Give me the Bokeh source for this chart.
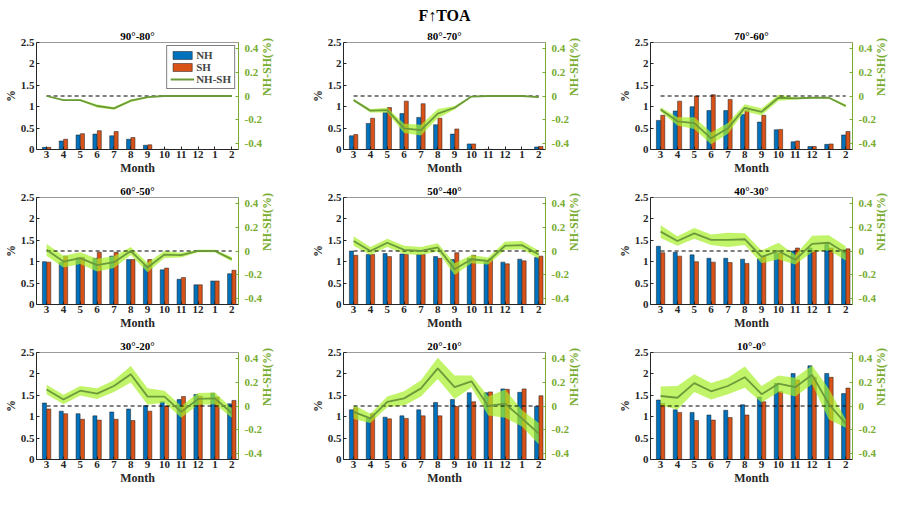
import numpy as np
from bokeh.plotting import figure
from bokeh.models import Range1d, LinearAxis, FixedTicker, Title, Legend, LegendItem
from bokeh.layouts import row, column
from bokeh.embed import file_html
from bokeh.resources import INLINE

months = ["3", "4", "5", "6", "7", "8", "9", "10", "11", "12", "1", "2"]
main_title = "F\u2191TOA"
band_titles = ["90°-80°", "80°-70°", "70°-60°", "60°-50°", "50°-40°",
               "40°-30°", "30°-20°", "20°-10°", "10°-0°"]

nh_90_80 = [0.05, 0.20, 0.34, 0.36, 0.32, 0.24, 0.10, 0.005, 0, 0, 0, 0]
sh_90_80 = [0.05, 0.24, 0.37, 0.44, 0.42, 0.28, 0.11, 0.005, 0, 0, 0, 0]
df_90_80 = [0.0, -0.035, -0.035, -0.085, -0.105, -0.04, -0.01, 0, 0, 0, 0, 0]
er_90_80 = [0.004, 0.006, 0.008, 0.012, 0.012, 0.01, 0.006, 0.003, 0.002, 0.002, 0.002, 0.002]

nh_80_70 = [0.32, 0.61, 0.86, 0.84, 0.75, 0.58, 0.36, 0.13, 0.005, 0, 0, 0.06]
sh_80_70 = [0.35, 0.73, 0.98, 1.13, 1.07, 0.73, 0.48, 0.13, 0.005, 0, 0, 0.07]
df_80_70 = [-0.035, -0.125, -0.12, -0.275, -0.29, -0.15, -0.10, -0.005, 0.0, 0.0, 0.0, -0.01]
er_80_70 = [0.01, 0.015, 0.02, 0.04, 0.045, 0.04, 0.015, 0.005, 0.003, 0.002, 0.002, 0.004]

nh_70_60 = [0.68, 0.90, 1.00, 0.91, 0.91, 0.82, 0.64, 0.46, 0.18, 0.07, 0.12, 0.34]
sh_70_60 = [0.80, 1.13, 1.25, 1.28, 1.17, 0.91, 0.80, 0.47, 0.20, 0.07, 0.13, 0.42]
df_70_60 = [-0.115, -0.215, -0.23, -0.36, -0.275, -0.10, -0.135, -0.015, -0.02, -0.015, -0.015, -0.085]
er_70_60 = [0.02, 0.035, 0.05, 0.05, 0.045, 0.03, 0.03, 0.025, 0.01, 0.006, 0.006, 0.012]

nh_60_50 = [1.00, 0.98, 1.09, 1.08, 1.13, 1.05, 0.92, 0.81, 0.59, 0.46, 0.55, 0.72]
sh_60_50 = [0.99, 1.13, 1.10, 1.22, 1.22, 1.05, 1.05, 0.85, 0.63, 0.46, 0.55, 0.80]
df_60_50 = [0.01, -0.09, -0.06, -0.12, -0.095, 0.0, -0.14, -0.03, -0.035, 0.0, 0.0, -0.07]
er_60_50 = [0.05, 0.05, 0.05, 0.055, 0.05, 0.035, 0.04, 0.03, 0.02, 0.01, 0.01, 0.02]

nh_50_40 = [1.25, 1.17, 1.19, 1.18, 1.17, 1.12, 1.05, 1.08, 0.99, 0.99, 1.06, 1.10]
sh_50_40 = [1.15, 1.17, 1.12, 1.17, 1.17, 1.08, 1.21, 1.15, 1.07, 0.95, 1.02, 1.13]
df_50_40 = [0.085, 0.0, 0.07, 0.01, 0.0, 0.03, -0.155, -0.07, -0.085, 0.045, 0.05, -0.03]
er_50_40 = [0.04, 0.035, 0.035, 0.035, 0.035, 0.035, 0.05, 0.035, 0.03, 0.035, 0.035, 0.035]

nh_40_30 = [1.36, 1.22, 1.16, 1.08, 1.08, 1.06, 1.07, 1.20, 1.25, 1.32, 1.40, 1.28]
sh_40_30 = [1.21, 1.13, 1.00, 0.99, 0.98, 0.96, 1.12, 1.20, 1.32, 1.26, 1.32, 1.30]
df_40_30 = [0.165, 0.085, 0.15, 0.095, 0.095, 0.10, -0.05, 0.0, -0.075, 0.06, 0.07, -0.02]
er_40_30 = [0.055, 0.04, 0.045, 0.045, 0.06, 0.05, 0.055, 0.07, 0.04, 0.07, 0.065, 0.06]

nh_30_20 = [1.32, 1.13, 1.07, 1.02, 1.11, 1.18, 1.26, 1.35, 1.40, 1.52, 1.55, 1.30]
sh_30_20 = [1.18, 1.07, 0.94, 0.92, 0.94, 0.91, 1.13, 1.25, 1.47, 1.48, 1.46, 1.38]
df_30_20 = [0.14, 0.055, 0.13, 0.105, 0.17, 0.27, 0.08, 0.08, -0.05, 0.06, 0.065, -0.06]
er_30_20 = [0.04, 0.04, 0.04, 0.045, 0.05, 0.07, 0.07, 0.05, 0.05, 0.05, 0.05, 0.04]

nh_20_10 = [1.16, 0.96, 0.99, 1.02, 1.16, 1.33, 1.40, 1.56, 1.56, 1.65, 1.57, 1.24]
sh_20_10 = [1.21, 1.07, 0.95, 0.96, 1.02, 1.02, 1.24, 1.35, 1.58, 1.64, 1.65, 1.49]
df_20_10 = [-0.05, -0.105, 0.035, 0.065, 0.15, 0.32, 0.16, 0.21, 0.0, 0.02, -0.105, -0.235]
er_20_10 = [0.06, 0.04, 0.045, 0.06, 0.07, 0.09, 0.1, 0.05, 0.08, 0.12, 0.07, 0.09]

nh_10_0 = [1.39, 1.16, 1.10, 1.04, 1.15, 1.28, 1.46, 1.78, 2.01, 2.19, 2.01, 1.54]
sh_10_0 = [1.31, 1.10, 0.91, 0.92, 0.98, 1.04, 1.35, 1.59, 1.86, 1.92, 1.92, 1.67]
df_10_0 = [0.085, 0.07, 0.195, 0.125, 0.17, 0.245, 0.10, 0.19, 0.16, 0.265, 0.015, -0.15]
er_10_0 = [0.08, 0.1, 0.075, 0.07, 0.07, 0.09, 0.07, 0.07, 0.08, 0.08, 0.13, 0.035]

panels = [
    (nh_90_80, sh_90_80, df_90_80, er_90_80),
    (nh_80_70, sh_80_70, df_80_70, er_80_70),
    (nh_70_60, sh_70_60, df_70_60, er_70_60),
    (nh_60_50, sh_60_50, df_60_50, er_60_50),
    (nh_50_40, sh_50_40, df_50_40, er_50_40),
    (nh_40_30, sh_40_30, df_40_30, er_40_30),
    (nh_30_20, sh_30_20, df_30_20, er_30_20),
    (nh_20_10, sh_20_10, df_20_10, er_20_10),
    (nh_10_0, sh_10_0, df_10_0, er_10_0),
]

FONT = "Liberation Serif"
NHC = "#0072BD"
SHC = "#D95319"
LINEC = "#6B9A3A"
BANDC = "#A6F02A"
AXG = "#77AC30"
TXT = "#262626"

idx = np.arange(1, len(months) + 1)
left_ticks = [0, 0.5, 1, 1.5, 2, 2.5]
left_labels = {0: "0", 0.5: "0.5", 1: "1", 1.5: "1.5", 2: "2", 2.5: "2.5"}
right_ticks = [-0.4, -0.2, 0, 0.2, 0.4]
right_labels = {-0.4: "-0.4", -0.2: "-0.2", 0: "0", 0.2: "0.2", 0.4: "0.4"}

FRAME_W = 202
FRAME_H = 107
BOT = 30
LEFT = 35


def style_axis(ax, color):
    ax.axis_label_text_font = FONT
    ax.axis_label_text_font_style = "bold"
    ax.axis_label_text_font_size = "12px"
    ax.axis_label_text_color = color
    ax.axis_label_standoff = 2
    ax.major_label_text_font = FONT
    ax.major_label_text_font_style = "bold"
    ax.major_label_text_font_size = "11px"
    ax.major_label_text_color = color
    ax.major_label_standoff = 3
    ax.major_tick_in = 3
    ax.major_tick_out = 0
    ax.minor_tick_in = 0
    ax.minor_tick_out = 0
    ax.axis_line_color = color
    ax.major_tick_line_color = color


figs = []
for k, (nh, sh, df, er) in enumerate(panels):
    r, c = divmod(k, 3)
    R = 69 if c < 2 else 48
    T = 42 if r == 0 else 18
    p = figure(frame_width=FRAME_W, frame_height=FRAME_H,
               x_range=Range1d(0.4, 12.4), y_range=Range1d(0, 2.5),
               output_backend="svg", toolbar_location=None, title=None,
               min_border_left=LEFT, min_border_right=R, min_border_top=T,
               min_border_bottom=BOT)
    p.extra_y_ranges = {"d": Range1d(-0.455, 0.455)}
    p.xgrid.visible = False
    p.ygrid.visible = False
    p.outline_line_color = "#9a9a9a"

    p.add_layout(Title(text=band_titles[k], align="center", text_font=FONT,
                       text_font_style="bold", text_font_size="11px",
                       text_color="black", standoff=2), "above")
    if k == 1:
        p.add_layout(Title(text=main_title, align="center", text_font=FONT,
                           text_font_style="bold", text_font_size="16px",
                           text_color="black", standoff=5), "above")

    nh_a = np.array(nh)
    sh_a = np.array(sh)
    df_a = np.array(df)
    er_a = np.array(er)

    b1 = p.vbar(x=idx - 0.13, top=nh_a, width=0.24, fill_color=NHC,
                line_color="#1a1a1a", line_width=0.5)
    b2 = p.vbar(x=idx + 0.13, top=sh_a, width=0.24, fill_color=SHC,
                line_color="#1a1a1a", line_width=0.5)
    p.varea(x=idx, y1=df_a - er_a, y2=df_a + er_a, fill_color=BANDC,
            fill_alpha=0.7, y_range_name="d")
    p.line(x=idx, y=np.zeros(len(idx)), line_color="black", line_dash="4 3",
           line_width=1.2, y_range_name="d")
    ln = p.line(x=idx, y=df_a, line_color=LINEC, line_width=1.8, y_range_name="d")

    if k == 0:
        leg = Legend(items=[LegendItem(label="NH", renderers=[b1]),
                            LegendItem(label="SH", renderers=[b2]),
                            LegendItem(label="NH-SH", renderers=[ln])],
                     location="top_right")
        leg.label_text_font = FONT
        leg.label_text_font_style = "bold"
        leg.label_text_font_size = "11px"
        leg.label_height = 10
        leg.glyph_height = 10
        leg.glyph_width = 24
        leg.label_standoff = 2
        leg.spacing = 0
        leg.padding = 3
        leg.margin = 3
        leg.border_line_color = "black"
        leg.border_line_width = 0.8
        p.add_layout(leg, "center")

    style_axis(p.xaxis[0], TXT)
    p.xaxis[0].ticker = FixedTicker(ticks=list(idx))
    p.xaxis[0].major_label_overrides = {int(i): m for i, m in zip(idx, months)}
    p.xaxis[0].axis_label = "Month"
    p.xaxis[0].major_label_standoff = 1
    p.xaxis[0].axis_label_standoff = 0

    style_axis(p.yaxis[0], TXT)
    p.yaxis[0].ticker = FixedTicker(ticks=left_ticks)
    p.yaxis[0].major_label_overrides = left_labels
    p.yaxis[0].axis_label = "%"
    p.yaxis[0].major_label_standoff = 2
    p.yaxis[0].axis_label_standoff = 0

    ax = LinearAxis(y_range_name="d", ticker=FixedTicker(ticks=right_ticks),
                    axis_label="NH-SH(%)")
    style_axis(ax, AXG)
    ax.major_label_overrides = right_labels
    ax.major_label_standoff = 6
    ax.axis_label_orientation = np.pi / 2
    p.add_layout(ax, "right")
    figs.append(p)

layout = column(row(*figs[0:3]), row(*figs[3:6]), row(*figs[6:9]))
open("out.html", "w").write(file_html(layout, INLINE))
